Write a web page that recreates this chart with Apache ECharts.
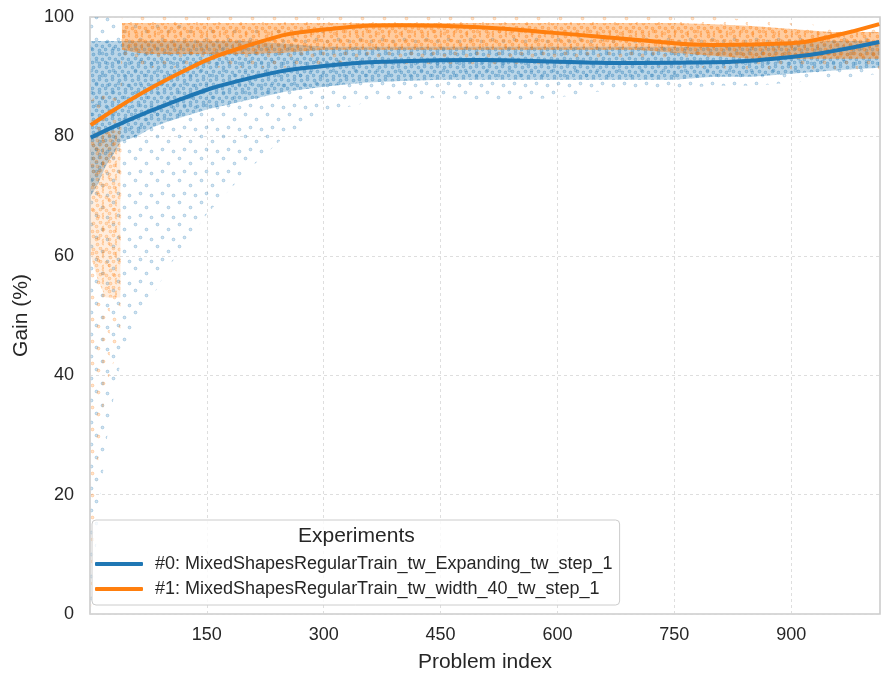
<!DOCTYPE html>
<html>
<head>
<meta charset="utf-8">
<script src="https://cdn.jsdelivr.net/npm/echarts@6/dist/echarts.min.js"></script>
<style>
html,body{margin:0;padding:0;background:#fff;}
#chart{width:881px;height:680px;}
</style>
</head>
<body>
<div id="chart"></div>
<script>
// ---------- DATA ----------
const seriesNames = [
  '#0: MixedShapesRegularTrain_tw_Expanding_tw_step_1',
  '#1: MixedShapesRegularTrain_tw_width_40_tw_step_1'
];
const xTicks = [150, 300, 450, 600, 750, 900];
const yTicks = [0, 20, 40, 60, 80, 100];

// fitted trend curves
const blueFitX = [1, 100, 200, 300, 400, 500, 600, 700, 800, 900, 950, 1013];
const blueFitY = [79.8, 85.4, 89.6, 91.8, 92.6, 92.8, 92.5, 92.3, 92.4, 93.3, 94.2, 95.8];
const orangeFitX = [1, 100, 200, 300, 400, 500, 600, 700, 800, 900, 950, 1013];
const orangeFitY = [81.9, 89.6, 95.1, 97.9, 98.6, 98.3, 97.3, 96.2, 95.3, 95.6, 96.7, 98.8];

// scatter clouds: envelopes of the point clouds (outer = sparse points, inner = dense core)
const bandX = [1, 10, 20, 30, 39, 41, 60, 80, 100, 150, 200, 250, 300, 350, 400, 450, 500, 550, 600, 650, 700, 750, 800, 850, 900, 950, 1013];
const blueOuterLow  = [0, 15, 28, 36, 42, 44, 48, 53, 58, 67, 74, 80, 84, 85.5, 86, 86.5, 86, 86, 86.5, 87.5, 88, 88, 88.5, 88.5, 89, 89.5, 90.5];
const blueInnerLow  = [70, 72, 75, 77, 79, 79.2, 80, 81.5, 82.5, 84.5, 86, 87.5, 88.3, 89, 89.3, 89.5, 89.5, 89.5, 89.5, 89.5, 89.5, 89.5, 90, 90, 90.5, 91, 91.5];
const blueInnerHigh = [96, 96, 96, 96, 96, 96, 96, 96, 96, 96, 96, 95.5, 95, 95, 95, 95, 95, 95, 95, 95, 95, 95, 95, 95.5, 95.5, 96, 96];
const blueOuterHigh = [100, 100, 100, 100, 99, 99, 99, 99, 99, 98, 98, 98, 97.5, 97, 97, 97, 97, 97, 97, 97, 97, 97, 97, 97, 97, 97.5, 97.5];
const orangeOuterLow  = [0, 25, 38, 42, 46, 92, 92, 91.5, 91.5, 91.5, 91.5, 91.5, 92, 92, 92, 92, 92, 92, 92, 92, 92, 91.5, 91.5, 91, 91, 91, 91];
const orangeInnerLow  = [60, 56, 53, 53, 53, 94.5, 94, 93.8, 93.8, 93.8, 93.8, 94, 94.5, 94.5, 94.5, 94.5, 94.5, 94.5, 94.5, 94.5, 94.5, 94, 93.5, 93, 93, 93, 93];
const orangeInnerHigh = [80, 81, 81, 81, 81, 99, 99, 99, 99, 99, 99, 99, 99, 99, 99, 99, 99, 99, 99, 99, 99, 99, 98.8, 98.5, 98, 97.5, 97.5];
const orangeOuterHigh = [86, 87, 87, 87, 87, 100, 100, 100, 100, 100, 100, 100, 100, 100, 100, 100, 100, 100, 100, 100, 100, 100, 100, 99.5, 99, 98.5, 98];

// ---------- CHART ----------
const BLUE = '#1f77b4', ORANGE = '#ff7f0e';
const TXT = '#262626';
const FONT = '"Liberation Sans", Arial, sans-serif';

function zip(xs, ys) { return xs.map((x, i) => [x, ys[i]]); }

// dotted texture tiles (visual style of the scatter markers)
const sparseTile = { size: 22, dots: [[3, 4], [14, 9], [8, 17], [19, 19]] };
const denseTile  = { size: 13, dots: [[2, 2], [8, 1], [5, 6], [11, 7], [1, 10], [8, 11]] };
function dotPattern(tile, rgb, alpha, shift) {
  const c = document.createElement('canvas');
  c.width = tile.size; c.height = tile.size;
  const g = c.getContext('2d');
  tile.dots.forEach(function (d) {
    const x = (d[0] + shift) % tile.size + 0.5, y = (d[1] + shift * 2) % tile.size + 0.5;
    g.beginPath();
    g.arc(x, y, 1.4, 0, Math.PI * 2);
    g.fillStyle = 'rgba(' + rgb + ',' + (alpha * 0.6) + ')';
    g.fill();
    g.lineWidth = 0.8;
    g.strokeStyle = 'rgba(' + rgb + ',' + alpha + ')';
    g.stroke();
  });
  return { image: c, repeat: 'repeat' };
}

// band polygon between lo and hi over the index range [i0, i1]
function band(name, xs, lo, hi, fill, z, i0, i1) {
  const a = i0 || 0, b = (i1 === undefined) ? xs.length - 1 : i1;
  return {
    type: 'custom', name: name, silent: true, z: z, clip: true,
    data: [[xs[a], lo[a]]],
    encode: { x: 0, y: 1 },
    renderItem: function (params, api) {
      const pts = [];
      for (let i = a; i <= b; i++) pts.push(api.coord([xs[i], hi[i]]));
      for (let i = b; i >= a; i--) pts.push(api.coord([xs[i], lo[i]]));
      return { type: 'polygon', shape: { points: pts }, style: { fill: fill } };
    }
  };
}

const BRGB = '31,119,180', ORGB = '255,127,14';

const chart = echarts.init(document.getElementById('chart'), null, { renderer: 'canvas' });
const option = {
  animation: false,
  backgroundColor: '#fff',
  textStyle: { fontFamily: FONT, color: TXT },
  grid: { left: 90, right: 1, top: 17, bottom: 66, show: true, borderColor: '#cccccc', borderWidth: 1.6, backgroundColor: 'transparent' },
  xAxis: {
    type: 'value', min: 0, max: 1014, interval: 150,
    name: 'Problem index', nameLocation: 'middle', nameGap: 38,
    nameTextStyle: { fontSize: 21, color: TXT, fontFamily: FONT },
    axisLine: { show: false }, axisTick: { show: false },
    axisLabel: { fontSize: 18, color: TXT, fontFamily: FONT, margin: 12, showMinLabel: false, showMaxLabel: false,
      formatter: v => (xTicks.indexOf(v) >= 0 ? String(v) : '') },
    splitLine: { show: true, lineStyle: { color: '#d6d6d6', width: 0.8, type: [3, 3] } }
  },
  yAxis: {
    type: 'value', min: 0, max: 100, interval: 20,
    name: 'Gain (%)', nameLocation: 'middle', nameGap: 58,
    nameTextStyle: { fontSize: 21, color: TXT, fontFamily: FONT },
    axisLine: { show: false }, axisTick: { show: false },
    axisLabel: { fontSize: 18, color: TXT, fontFamily: FONT, margin: 16,
      formatter: v => (yTicks.indexOf(v) >= 0 ? String(v) : '') },
    splitLine: { show: true, lineStyle: { color: '#d6d6d6', width: 0.8, type: [3, 3] } }
  },
  legend: {
    data: seriesNames,
    orient: 'vertical', left: 92, top: 520,
    padding: [34, 7, 6, 3],
    icon: 'roundRect',
    itemWidth: 48, itemHeight: 4, itemGap: 5,
    backgroundColor: 'rgba(255,255,255,0.8)', borderColor: '#cccccc', borderWidth: 1, borderRadius: 4,
    textStyle: { fontSize: 18, color: TXT, fontFamily: FONT, lineHeight: 20, padding: [0, 0, 0, 7] }
  },
  graphic: [{
    type: 'text', left: 298, top: 526, z: 100,
    style: { text: 'Experiments', fontSize: 21, fill: TXT, fontFamily: FONT }
  }],
  series: [
    band('b0o', bandX, blueOuterLow, blueOuterHigh, dotPattern(sparseTile, BRGB, 0.32, 0), 1),
    band('b0i', bandX, blueInnerLow, blueInnerHigh, 'rgba(31,119,180,0.30)', 2),
    band('b0t', bandX, blueInnerLow, blueInnerHigh, dotPattern(denseTile, BRGB, 0.4, 0), 2),
    band('b1o', bandX, orangeOuterLow, orangeOuterHigh, dotPattern(sparseTile, ORGB, 0.32, 7), 3),
    band('b1e', bandX, orangeInnerLow, orangeInnerHigh, 'rgba(255,127,14,0.14)', 4, 0, 4),
    band('b1f', bandX, orangeInnerLow, orangeInnerHigh, dotPattern(denseTile, ORGB, 0.3, 4), 4, 0, 4),
    band('b1i', bandX, orangeInnerLow, orangeInnerHigh, 'rgba(255,127,14,0.40)', 4, 5),
    band('b1t', bandX, orangeInnerLow, orangeInnerHigh, dotPattern(denseTile, ORGB, 0.45, 4), 4, 5),
    { type: 'line', name: seriesNames[0], data: zip(blueFitX, blueFitY), smooth: 0.5, showSymbol: false, symbol: 'none', z: 10,
      color: BLUE, lineStyle: { width: 4, color: BLUE }, itemStyle: { color: BLUE } },
    { type: 'line', name: seriesNames[1], data: zip(orangeFitX, orangeFitY), smooth: 0.5, showSymbol: false, symbol: 'none', z: 11,
      color: ORANGE, lineStyle: { width: 4, color: ORANGE }, itemStyle: { color: ORANGE } }
  ]
};
chart.setOption(option);
</script>
</body>
</html>
